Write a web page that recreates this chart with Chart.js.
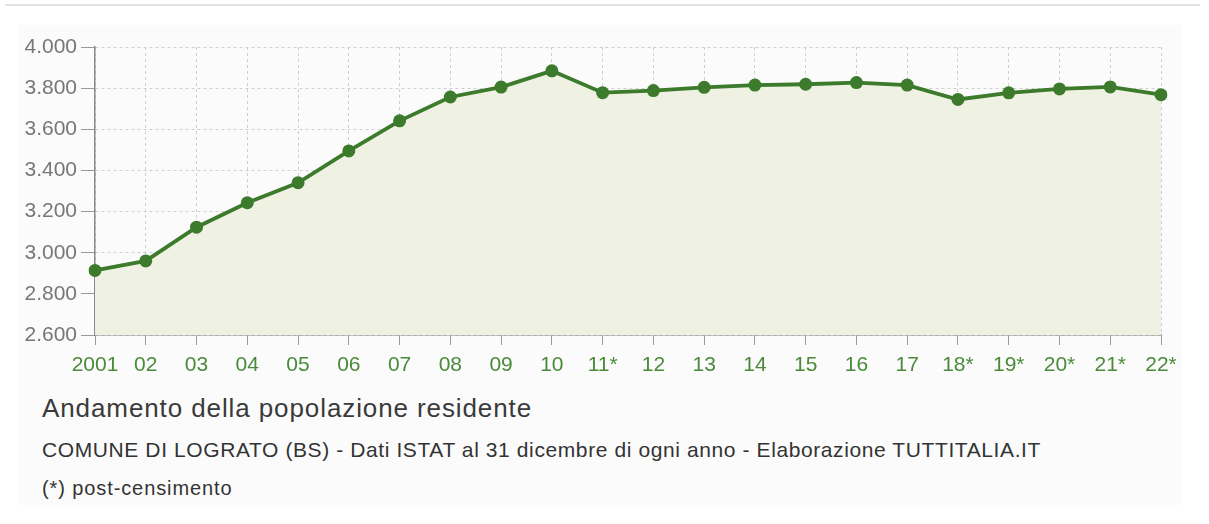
<!DOCTYPE html>
<html>
<head>
<meta charset="utf-8">
<script src="https://cdn.jsdelivr.net/npm/chart.js@4"></script>
<style>
  html, body { margin:0; padding:0; background:#fff; width:1209px; height:524px; overflow:hidden; font-family:"Liberation Sans", Arial, sans-serif; }
  #topline { position:absolute; left:5px; top:4px; width:1195px; height:2px; background:#e3e3e3; }
  #panel { position:absolute; left:18px; top:25px; width:1164px; height:480px; background:#fbfbfb; }
  #wrap { position:absolute; left:0; top:0; width:1209px; height:390px; }
  .t { position:absolute; left:42px; color:#333; white-space:nowrap; }
  #title { top:393px; font-size:26px; letter-spacing:0.9px; color:#3a3a3a; }
  #sub { top:438px; font-size:21px; letter-spacing:0.6px; }
  #note { top:477px; font-size:20px; letter-spacing:0.9px; }
</style>
</head>
<body>
<div id="topline"></div>
<div id="panel"></div>
<div id="wrap"><canvas id="c" width="1209" height="390"></canvas></div>
<div class="t" id="title">Andamento della popolazione residente</div>
<div class="t" id="sub">COMUNE DI LOGRATO (BS) - Dati ISTAT al 31 dicembre di ogni anno - Elaborazione TUTTITALIA.IT</div>
<div class="t" id="note">(*) post-censimento</div>
<script>
const years = ['2001','02','03','04','05','06','07','08','09','10','11*','12','13','14','15','16','17','18*','19*','20*','21*','22*'];
const population = [2914, 2960, 3124, 3243, 3340, 3495, 3641, 3757, 3805, 3884, 3778, 3788, 3804, 3815, 3819, 3827, 3815, 3745, 3777, 3796, 3806, 3768];
const yMin = 2600, yMax = 4000, yStep = 200;

function fmt(v){ return String(v).replace(/\B(?=(\d{3})+(?!\d))/g, '.'); }

const green = '#3c7a2c';
new Chart(document.getElementById('c'), {
  type: 'line',
  data: {
    labels: years,
    datasets: [{
      data: population,
      borderColor: green,
      backgroundColor: '#eff1e3',
      fill: 'start',
      borderWidth: 3.8,
      pointRadius: 6.5,
      pointBackgroundColor: green,
      pointBorderColor: green,
      pointBorderWidth: 0,
      tension: 0
    }]
  },
  options: {
    responsive: false,
    animation: false,
    events: [],
    layout: { padding: { left: 0, top: 47, right: 48, bottom: 0 } },
    plugins: { legend: { display: false }, tooltip: { enabled: false } },
    scales: {
      x: {
        offset: false,
        afterFit: s => { s.height = 55; },
        grid: { color: '#cfcfcf', tickColor: '#999', tickLength: 10, lineWidth: 1 },
        border: { display: true, color: '#8a8a8a', width: 1.5, dash: [3, 3] },
        ticks: { color: '#4a8a3a', font: { family: 'Liberation Sans', size: 21 }, padding: 8, maxRotation: 0, autoSkip: false }
      },
      y: {
        min: yMin, max: yMax,
        afterFit: s => { s.width = 95; },
        grid: { color: '#cfcfcf', tickColor: '#999', tickLength: 14, lineWidth: 1 },
        border: { display: true, color: '#8a8a8a', width: 1.5, dash: [3, 3] },
        ticks: { stepSize: yStep, color: '#777777', font: { family: 'Liberation Sans', size: 21 }, padding: 4, callback: v => fmt(v) }
      }
    }
  }
});
</script>
</body>
</html>
